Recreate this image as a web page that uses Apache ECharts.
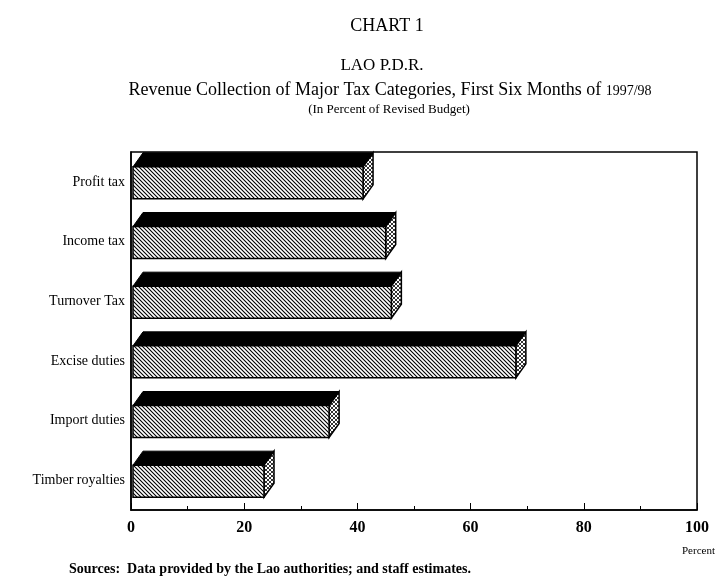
<!DOCTYPE html>
<html>
<head>
<meta charset="utf-8">
<script src="https://cdn.jsdelivr.net/npm/echarts@6/dist/echarts.min.js"></script>
<style>
html, body { margin: 0; padding: 0; background: #fff; }
#container { width: 719px; height: 585px; }
</style>
</head>
<body>
<div id="container"></div>
<script>
var categories = ['Profit tax', 'Income tax', 'Turnover Tax', 'Excise duties', 'Import duties', 'Timber royalties'];
var values = [41, 45, 46, 68, 35, 23.5];
var xTicks = [0, 20, 40, 60, 80, 100];

var serif = '"Liberation Serif", "DejaVu Serif", serif';

// hatch patterns for the bar faces
function makePattern(size, draw) {
    var c = document.createElement('canvas');
    c.width = size; c.height = size;
    var ctx = c.getContext('2d');
    ctx.fillStyle = '#fff';
    ctx.fillRect(0, 0, size, size);
    ctx.strokeStyle = '#000';
    ctx.lineWidth = 1.1;
    draw(ctx, size);
    return { image: c, repeat: 'repeat' };
}
var frontHatch = makePattern(4, function (ctx, s) {
    ctx.beginPath();
    ctx.moveTo(-1, -1); ctx.lineTo(s + 1, s + 1);
    ctx.moveTo(-1, s - 1); ctx.lineTo(1, s + 1);
    ctx.moveTo(s - 1, -1); ctx.lineTo(s + 1, 1);
    ctx.stroke();
});
var sideHatch = makePattern(4, function (ctx, s) {
    ctx.lineWidth = 0.8;
    ctx.beginPath();
    ctx.moveTo(0, s); ctx.lineTo(s, 0);
    ctx.moveTo(0, 0); ctx.lineTo(s, s);
    ctx.stroke();
});

var dom = document.getElementById('container');
var myChart = echarts.init(dom);

var seriesData = values.map(function (v, i) { return [v, i]; });

function renderBar(params, api) {
    var start = api.coord([0, api.value(1)]);
    var end = api.coord([api.value(0), api.value(1)]);
    var h = 32, dx = 10, dy = 14;
    var x0 = start[0] + 2, x1 = end[0];
    var y = end[1] - h / 2 + 1;
    return {
        type: 'group',
        children: [
            {
                type: 'polygon',
                shape: { points: [[x0, y], [x1, y], [x1 + dx, y - dy], [x0 + dx, y - dy]] },
                style: { fill: '#000', stroke: '#000', lineWidth: 1 }
            },
            {
                type: 'polygon',
                shape: { points: [[x1, y], [x1 + dx, y - dy], [x1 + dx, y - dy + h], [x1, y + h]] },
                style: { fill: sideHatch, stroke: '#000', lineWidth: 1.5 }
            },
            {
                type: 'rect',
                shape: { x: x0, y: y, width: x1 - x0, height: h },
                style: { fill: frontHatch, stroke: '#000', lineWidth: 1.5 }
            }
        ]
    };
}

var option = {
    backgroundColor: '#fff',
    animation: false,
    title: [
        { text: 'CHART 1', left: 382, top: 12, textAlign: 'center',
          textStyle: { fontFamily: serif, fontSize: 18, fontWeight: 'normal', color: '#000' } },
        { text: 'LAO P.D.R.', left: 377, top: 52, textAlign: 'center',
          textStyle: { fontFamily: serif, fontSize: 17, fontWeight: 'normal', color: '#000' } },
        { text: 'Revenue Collection of Major Tax Categories, First Six Months of {s|1997/98}', left: 385, top: 76, textAlign: 'center',
          textStyle: { fontFamily: serif, fontSize: 18, fontWeight: 'normal', color: '#000',
            rich: { s: { fontFamily: serif, fontSize: 14, color: '#000', padding: [3, 0, 0, 0] } } } },
        { text: '(In Percent of Revised Budget)', left: 384, top: 98, textAlign: 'center',
          textStyle: { fontFamily: serif, fontSize: 13, fontWeight: 'normal', color: '#000' } },
        { text: 'Sources:  Data provided by the Lao authorities; and staff estimates.', left: 64, top: 557,
          textStyle: { fontFamily: serif, fontSize: 14, fontWeight: 'bold', color: '#000' } }
    ],
    graphic: [
        { type: 'text', left: 682, top: 546,
          style: { text: 'Percent', fontFamily: serif, fontSize: 11, fill: '#000' } }
    ],
    grid: { left: 131, right: 22, top: 152, bottom: 75, show: true, borderColor: '#000', borderWidth: 1.5, backgroundColor: 'transparent' },
    xAxis: {
        type: 'value', min: 0, max: 100, interval: 20,
        axisLine: { show: true, lineStyle: { color: '#000', width: 1.5 } },
        axisTick: { show: true, inside: true, length: 7, lineStyle: { color: '#000' } },
        minorTick: { show: true, splitNumber: 2, length: 4, lineStyle: { color: '#000' } },
        splitLine: { show: false },
        axisLabel: {
            margin: 10, fontFamily: serif, fontSize: 16, fontWeight: 'bold', color: '#000',
            formatter: function (v) { return xTicks.indexOf(v) >= 0 ? String(v) : ''; }
        }
    },
    yAxis: {
        type: 'category', data: categories, inverse: true,
        axisLine: { show: true, lineStyle: { color: '#000', width: 1.5 } },
        axisTick: { show: false },
        axisLabel: { margin: 6, fontFamily: serif, fontSize: 14, color: '#000' }
    },
    series: [{
        type: 'custom',
        renderItem: renderBar,
        encode: { x: 0, y: 1 },
        data: seriesData
    }]
};
myChart.setOption(option);
</script>
</body>
</html>
